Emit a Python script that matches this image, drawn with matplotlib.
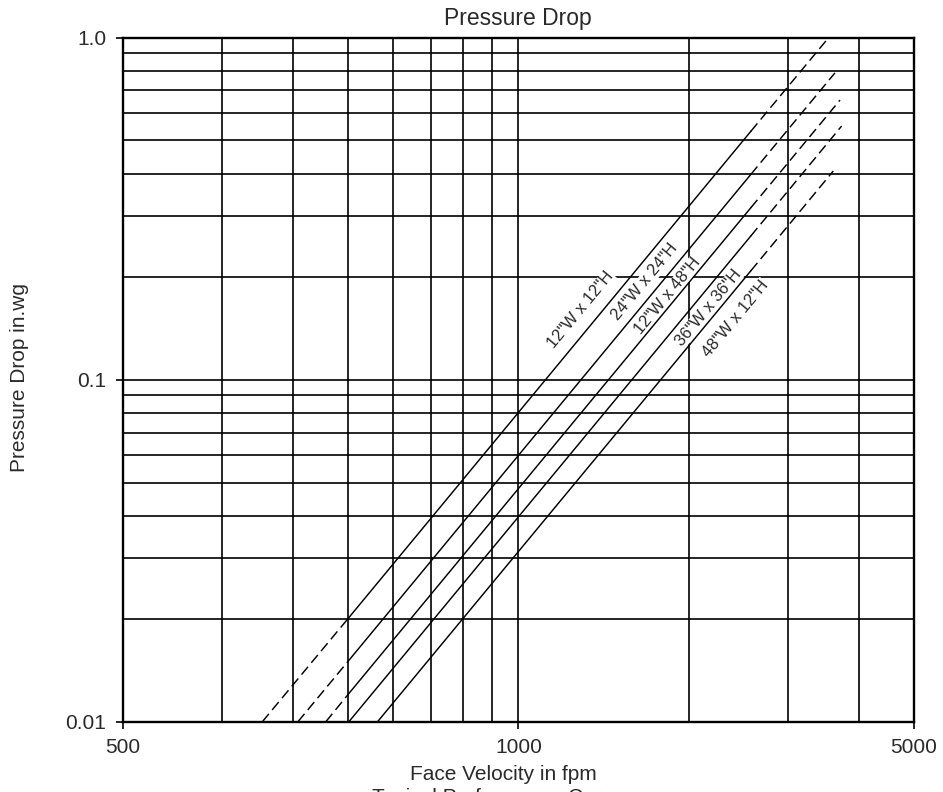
import math
import matplotlib
matplotlib.use('Agg')
import matplotlib.pyplot as plt
from matplotlib.ticker import NullFormatter

plt.rcParams['font.family'] = ['Liberation Sans', 'DejaVu Sans']

# axis ticks / grid
x_ticks = [200, 1000, 5000]
x_tick_labels = ['500', '1000', '5000']
x_grid = [300, 400, 500, 600, 700, 800, 900, 2000, 3000, 4000]
y_ticks = [0.01, 0.1, 1.0]
y_tick_labels = ['0.01', '0.1', '1.0']
y_grid = [0.02, 0.03, 0.04, 0.05, 0.06, 0.07, 0.08, 0.09,
          0.2, 0.3, 0.4, 0.5, 0.6, 0.7, 0.8, 0.9]

# filter sizes, one curve each
sizes = ['12"W x 12"H', '24"W x 24"H', '12"W x 48"H', '36"W x 36"H', '48"W x 12"H']

# points along each curve: dashed start, solid start, solid end, dashed end
vel_12x12 = [353, 500, 2575, 3535]
dp_12x12 = [0.01, 0.020, 0.532, 1.0]
vel_24x24 = [408, 500, 2575, 3625]
dp_24x24 = [0.01, 0.015, 0.398, 0.788]
vel_12x48 = [457, 500, 2575, 3700]
dp_12x48 = [0.01, 0.012, 0.318, 0.656]
vel_36x36 = [502, 502, 2575, 3725]
dp_36x36 = [0.01, 0.01, 0.263, 0.551]
vel_48x12 = [564, 564, 2575, 3600]
dp_48x12 = [0.01, 0.01, 0.208, 0.407]

curve_vel = [vel_12x12, vel_24x24, vel_12x48, vel_36x36, vel_48x12]
curve_dp = [dp_12x12, dp_24x24, dp_12x48, dp_36x36, dp_48x12]

# where the size labels sit
label_vel = [1290, 1673, 1832, 2164, 2419]
label_dp = [0.160, 0.193, 0.1755, 0.1616, 0.151]

W, H = 943, 792
fig = plt.figure(figsize=(W / 100, H / 100), dpi=100)
ax = fig.add_axes([122.7 / W, 1 - 721.7 / H, (914 - 122.7) / W, (721.7 - 37.5) / H])
ax.set_xscale('log')
ax.set_yscale('log')
ax.set_xlim(200, 5000)
ax.set_ylim(0.01, 1.0)

ax.set_xticks(x_ticks, x_tick_labels)
ax.set_yticks(y_ticks, y_tick_labels)
ax.set_xticks(x_grid, minor=True)
ax.set_yticks(y_grid, minor=True)
ax.xaxis.set_minor_formatter(NullFormatter())
ax.yaxis.set_minor_formatter(NullFormatter())
ax.tick_params(which='minor', length=0)
ax.tick_params(which='major', length=5, width=1.2, direction='out', pad=7,
               labelsize=15, labelcolor='#2a2a2a')
ax.grid(which='both', color='black', lw=1.2)
ax.set_axisbelow(True)
for sp in ax.spines.values():
    sp.set_linewidth(1.7)

dash = (7, 3.5)
for v, p, name, lv, lp in zip(curve_vel, curve_dp, sizes, label_vel, label_dp):
    if v[0] < v[1]:
        ax.plot(v[0:2], p[0:2], color='black', lw=1.05, dashes=dash, zorder=4)
    ax.plot(v[1:3], p[1:3], color='black', lw=1.05, zorder=4)
    ax.plot(v[2:4], p[2:4], color='black', lw=1.05, dashes=dash, zorder=4)

    a = ax.transData.transform((v[1], p[1]))
    b = ax.transData.transform((v[2], p[2]))
    ang = math.degrees(math.atan2(b[1] - a[1], b[0] - a[0]))
    ax.text(lv, lp, name, rotation=ang, rotation_mode='anchor', ha='center', va='center',
            fontsize=12, color='#2a2a2a', zorder=3,
            bbox=dict(fc='white', ec='none', pad=0.3))

fig.text(517.5 / W, 1 - 25 / H, 'Pressure Drop', ha='center', va='baseline',
         fontsize=16.5, color='#2a2a2a')
fig.text(503 / W, 1 - 780 / H, 'Face Velocity in fpm', ha='center', va='baseline',
         fontsize=15, color='#2a2a2a')
fig.text(503 / W, 1 - 802.6 / H, 'Typical Performance Curves', ha='center', va='baseline',
         fontsize=15, color='#2a2a2a')
fig.text(19.5 / W, 1 - 377 / H, 'Pressure Drop in.wg', rotation=90, ha='center', va='center',
         fontsize=15, color='#2a2a2a')

fig.savefig('out.png', dpi=100)
